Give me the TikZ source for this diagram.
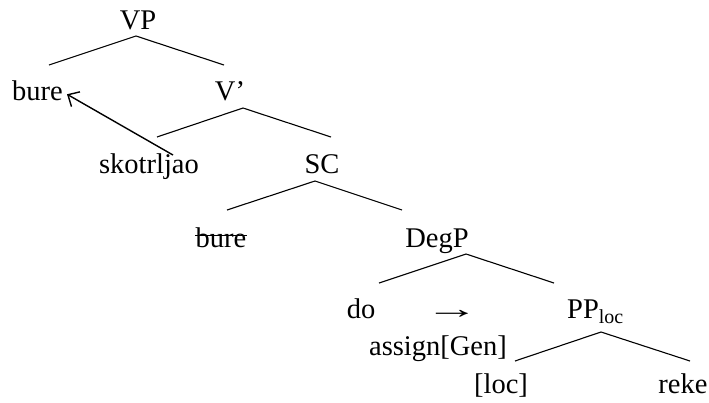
\documentclass[tikz,border=0pt]{standalone}
\usepackage{fontspec}
\setmainfont{Liberation Serif}
\usepackage{graphicx}
\usepackage{tikz}
\usetikzlibrary{arrows.meta}

\begin{document}
\begin{tikzpicture}[x=1pt,y=-1pt]
		\useasboundingbox (0,0) rectangle (709,402);
		\tikzstyle{every node}+=[inner sep=0pt,anchor=base,font=\fontsize{28.5}{34}\selectfont]
		\tikzstyle{branch}=[line width=1.1pt]
		% labels, placed on their baselines
		\node (vp) at (138,29) {VP};
		\node (bure) at (37.5,100) {bure};
		\node (vbar) at (230,100) {V'};
		\node (skot) at (149,173) {skotrljao};
		\node (sc) at (322,173) {SC};
		\node (bure2) at (221,247) {bure};
		\node (degp) at (437,247) {DegP};
		\node (do) at (361,318) {do};
		\node (arr) at (452,318) {\scalebox{1.9}[1]{→}};
		\node[anchor=base west] (pp) at (567,318) {PP\textsubscript{loc}};
		\node (assign) at (438,355) {assign[Gen]};
		\node (loc) at (501,393) {[loc]};
		\node (reke) at (683,393) {reke};
		% branch points
		\coordinate (vp-t) at (136,36);
		\coordinate (vp-l) at (49,65);
		\coordinate (vp-r) at (224,65);
		\coordinate (vbar-t) at (243,108);
		\coordinate (vbar-l) at (157,137);
		\coordinate (vbar-r) at (331,137);
		\coordinate (sc-t) at (315,181);
		\coordinate (sc-l) at (227,210);
		\coordinate (sc-r) at (402,210);
		\coordinate (degp-t) at (466,254);
		\coordinate (degp-l) at (379,283);
		\coordinate (degp-r) at (554,283);
		\coordinate (pp-t) at (601,332);
		\coordinate (pp-l) at (515,361);
		\coordinate (pp-r) at (690,361);
		\draw[branch] (vp-l) -- (vp-t) -- (vp-r);
		\draw[branch] (vbar-l) -- (vbar-t) -- (vbar-r);
		\draw[branch] (sc-l) -- (sc-t) -- (sc-r);
		\draw[branch] (degp-l) -- (degp-t) -- (degp-r);
		\draw[branch] (pp-l) -- (pp-t) -- (pp-r);
		% trace of the moved object
		\draw[line width=1pt] ([yshift=12]bure2.base west) -- ([yshift=12]bure2.base east);
		% movement arrow
		\draw[-{Straight Barb[length=9pt,width=17pt]},line width=1.4pt] ([xshift=24,yshift=-2]skot.north) -- ([xshift=4,yshift=-4]bure.east);
\end{tikzpicture}
\end{document}
